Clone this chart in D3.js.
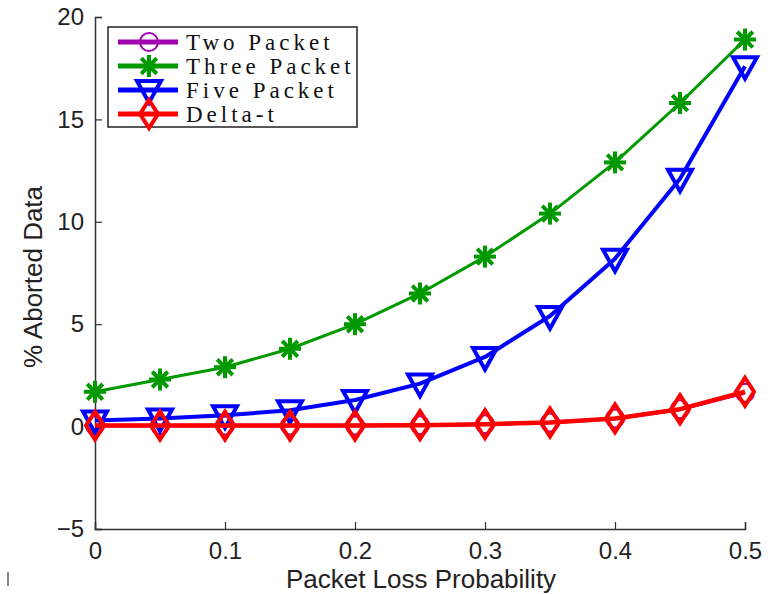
<!DOCTYPE html>
<html>
<head>
<meta charset="utf-8">
<script src="https://cdn.jsdelivr.net/npm/d3@7"></script>
<style>
  body { margin: 0; background: #fff; }
  svg { display: block; }
</style>
</head>
<body>
<script>
// Packet loss probabilities (x axis)
var lossProb = [0, 0.05, 0.1, 0.15, 0.2, 0.25, 0.3, 0.35, 0.4, 0.45, 0.5];
// % aborted data per scheme
var twoPacket   = [0.05, 0.05, 0.05, 0.05, 0.05, 0.07, 0.12, 0.2, 0.4, 0.85, 1.65];
var threePacket = [1.7, 2.3, 2.9, 3.8, 5.0, 6.5, 8.3, 10.4, 12.9, 15.8, 18.9];
var fivePacket  = [0.3, 0.4, 0.55, 0.8, 1.3, 2.1, 3.4, 5.4, 8.2, 12.1, 17.6];
var deltaT      = [0.05, 0.05, 0.05, 0.05, 0.05, 0.07, 0.12, 0.2, 0.4, 0.85, 1.7];
var seriesNames = ["Two Packet", "Three Packet", "Five Packet", "Delta-t"];
var xTicks = [0, 0.1, 0.2, 0.3, 0.4, 0.5];
var yTicks = [-5, 0, 5, 10, 15, 20];

var larg = 774, haut = 594;
var marg = {left: 95, right: 29, top: 17, bottom: 65};

var series = [
  {name: seriesNames[0], vals: twoPacket,   color: "#a000b0", marker: "circle",  lw: 3.5},
  {name: seriesNames[1], vals: threePacket, color: "#009900", marker: "star",    lw: 3},
  {name: seriesNames[2], vals: fivePacket,  color: "#0000ff", marker: "tri",     lw: 4},
  {name: seriesNames[3], vals: deltaT,      color: "#ff0000", marker: "diamond", lw: 4.5}
];

var svg = d3.select("body").append("svg")
  .attr("width", larg).attr("height", haut);

var x = d3.scaleLinear().domain([0, 0.5]).range([marg.left, larg - marg.right]);
var y = d3.scaleLinear().domain([-5, 20]).range([haut - marg.bottom, marg.top]);

// Axes (MATLAB style, box off)
var axisCol = "#333";
var gx = svg.append("g").attr("transform", "translate(0," + (haut - marg.bottom) + ")")
  .call(d3.axisBottom(x).tickValues(xTicks).tickSize(-7).tickPadding(18)
    .tickFormat(function(d) { return d === 0 ? "0" : d3.format(".1f")(d); }));
var gy = svg.append("g").attr("transform", "translate(" + marg.left + ",0)")
  .call(d3.axisLeft(y).tickValues(yTicks).tickSize(-7).tickPadding(11)
    .tickFormat(function(d) { return d < 0 ? "\u2212" + Math.abs(d) : d; }));
[gx, gy].forEach(function(g) {
  g.select(".domain").attr("stroke", axisCol).attr("stroke-width", 1.5);
  g.selectAll(".tick line").attr("stroke", axisCol).attr("stroke-width", 1.2);
  g.selectAll("text").attr("font-family", "Liberation Sans, Arial, sans-serif")
    .attr("font-size", "24px").attr("fill", "#222");
});
gx.selectAll("text").attr("dy", "0.5em");

// Axis titles
svg.append("text")
  .attr("x", 421).attr("y", 588)
  .attr("text-anchor", "middle")
  .attr("font-family", "Liberation Sans, Arial, sans-serif")
  .attr("font-size", "26px").attr("fill", "#222")
  .text("Packet Loss Probability");
svg.append("text")
  .attr("transform", "translate(42," + 277 + ") rotate(-90)")
  .attr("text-anchor", "middle")
  .attr("font-family", "Liberation Sans, Arial, sans-serif")
  .attr("font-size", "26px").attr("fill", "#222")
  .text("% Aborted Data");

// stray mark bottom-left
svg.append("line").attr("x1", 8).attr("x2", 8).attr("y1", 572).attr("y2", 586)
  .attr("stroke", "#333").attr("stroke-width", 1.2);

// marker drawing
function drawMarker(g, type, cx, cy, color) {
  if (type === "circle") {
    g.append("circle").attr("cx", cx).attr("cy", cy).attr("r", 9)
      .attr("fill", "none").attr("stroke", color).attr("stroke-width", 2);
  } else if (type === "star") {
    var r = 11;
    for (var k = 0; k < 4; k++) {
      var a = k * Math.PI / 4;
      g.append("line")
        .attr("x1", cx - r * Math.cos(a)).attr("y1", cy - r * Math.sin(a))
        .attr("x2", cx + r * Math.cos(a)).attr("y2", cy + r * Math.sin(a))
        .attr("stroke", color).attr("stroke-width", 4);
    }
  } else if (type === "tri") {
    var s = 12;
    g.append("path")
      .attr("d", "M" + (cx - s) + "," + (cy - s * 0.75) + "L" + (cx + s) + "," + (cy - s * 0.75) + "L" + cx + "," + (cy + s * 1.05) + "Z")
      .attr("fill", "none").attr("stroke", color).attr("stroke-width", 4);
  } else if (type === "diamond") {
    g.append("path")
      .attr("d", "M" + cx + "," + (cy - 14) + "L" + (cx + 9) + "," + cy + "L" + cx + "," + (cy + 14) + "L" + (cx - 9) + "," + cy + "Z")
      .attr("fill", "none").attr("stroke", color).attr("stroke-width", 4);
  }
}

var line = d3.line()
  .x(function(d, i) { return x(lossProb[i]); })
  .y(function(d) { return y(d); });

series.forEach(function(s) {
  var g = svg.append("g");
  g.append("path").datum(s.vals)
    .attr("d", line).attr("fill", "none")
    .attr("stroke", s.color).attr("stroke-width", s.lw)
    .attr("stroke-linejoin", "round");
  s.vals.forEach(function(v, i) {
    drawMarker(g, s.marker, x(lossProb[i]), y(v), s.color);
  });
});

// Legend
var lg = svg.append("g");
lg.append("rect").attr("x", 108).attr("y", 27).attr("width", 249).attr("height", 100)
  .attr("fill", "#fff").attr("stroke", "#222").attr("stroke-width", 1.5);
series.forEach(function(s, i) {
  var ly = 42 + i * 24;
  lg.append("line").attr("x1", 118).attr("x2", 178).attr("y1", ly).attr("y2", ly)
    .attr("stroke", s.color).attr("stroke-width", 5);
  drawMarker(lg, s.marker, 149, ly, s.color);
  lg.append("text").attr("x", 186).attr("y", ly + 8)
    .attr("font-family", "Liberation Serif, DejaVu Serif, serif")
    .attr("font-size", "23px").attr("letter-spacing", "4px").attr("fill", "#111")
    .text(s.name);
});
</script>
</body>
</html>
